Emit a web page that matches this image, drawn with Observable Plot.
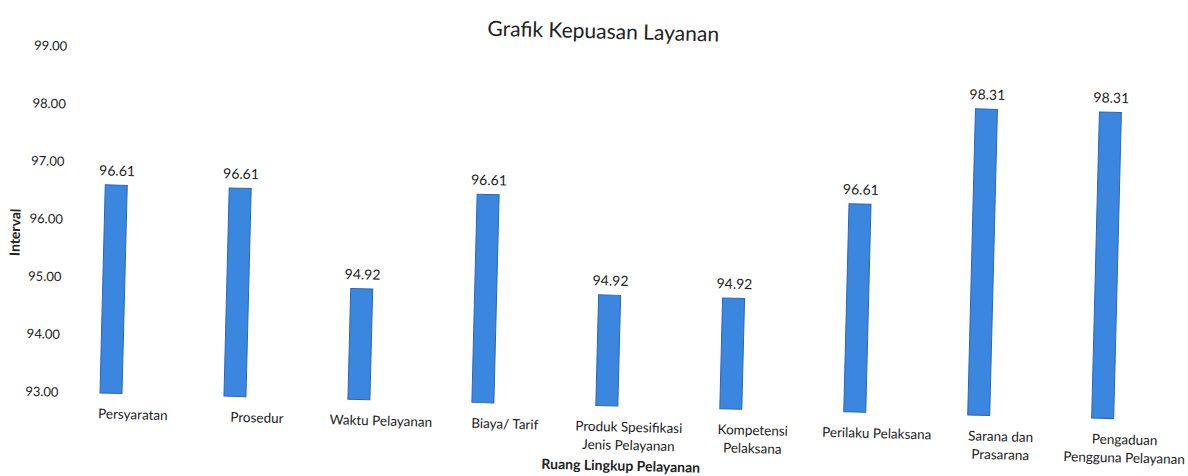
<!DOCTYPE html>
<html>
<head>
<meta charset="utf-8">
<script src="https://cdn.jsdelivr.net/npm/d3@7"></script>
<script src="https://cdn.jsdelivr.net/npm/@observablehq/plot@0.6"></script>
<style>
  html, body { margin: 0; padding: 0; background: #fff; overflow: hidden; }
  body { width: 1188px; height: 476px; }
  #wrap { position: relative; width: 1188px; height: 476px; transform: rotate(1.45deg); transform-origin: 62px 392px; }
  #title { position: absolute; top: 4px; left: 0; width: 1188px; text-align: center; font-family: Lato, "Open Sans", sans-serif; font-size: 21px; line-height: 26px; color: #222; box-sizing: border-box; z-index: 2; }
  #chart { padding-top: 30px; }
  #chart svg { display: block; background: transparent; }
</style>
</head>
<body>
<div id="wrap">
<div id="title">Grafik Kepuasan Layanan</div>
<div id="chart"></div>
</div>
<script>
const categories = [
  "Persyaratan",
  "Prosedur",
  "Waktu Pelayanan",
  "Biaya/ Tarif",
  "Produk Spesifikasi\nJenis Pelayanan",
  "Kompetensi\nPelaksana",
  "Perilaku Pelaksana",
  "Sarana dan\nPrasarana",
  "Pengaduan\nPengguna Pelayanan"
];
const values = [96.61, 96.61, 94.92, 96.61, 94.92, 94.92, 96.61, 98.31, 98.31];
const yTicks = [93, 94, 95, 96, 97, 98, 99];

const data = categories.map((c, i) => ({category: c, value: values[i]}));

const chart = Plot.plot({
  width: 1188,
  height: 446,
  marginLeft: 70,
  marginRight: 44,
  marginTop: 16,
  marginBottom: 84,
  style: {fontFamily: "Lato, 'Open Sans', sans-serif", color: "#222", background: "transparent"},
  x: {domain: categories, paddingInner: 0.823, paddingOuter: 0.225, label: null},
  y: {domain: [93, 99], label: null},
  marks: [
    Plot.axisY({ticks: yTicks, tickFormat: d => d.toFixed(2), tickSize: 0, tickPadding: 12, fontSize: 13, label: null}),
    Plot.axisX({tickSize: 0, tickPadding: 12, fontSize: 13.5, lineHeight: 1.35, dx: 22, lineAnchor: "top", label: null}),
    Plot.barY(data, {x: "category", y1: 93, y2: "value", fill: "#3b87e0", stroke: "#2a66b5", strokeWidth: 1}),
    Plot.text(data, {x: "category", y: "value", text: d => d.value.toFixed(2), dy: -10, lineAnchor: "bottom", fontSize: 14, fill: "#222"}),
    Plot.text(["Ruang Lingkup Pelayanan"], {frameAnchor: "bottom", text: d => d, dx: 15, dy: 64, fontSize: 14, fontWeight: "bold", fill: "#222"}),
    Plot.text(["Interval"], {frameAnchor: "left", textAnchor: "middle", text: d => d, rotate: -90, dx: -59, dy: 14, fontSize: 14, fontWeight: "bold", fill: "#222"})
  ]
});
document.getElementById("chart").appendChild(chart);
</script>
</body>
</html>
